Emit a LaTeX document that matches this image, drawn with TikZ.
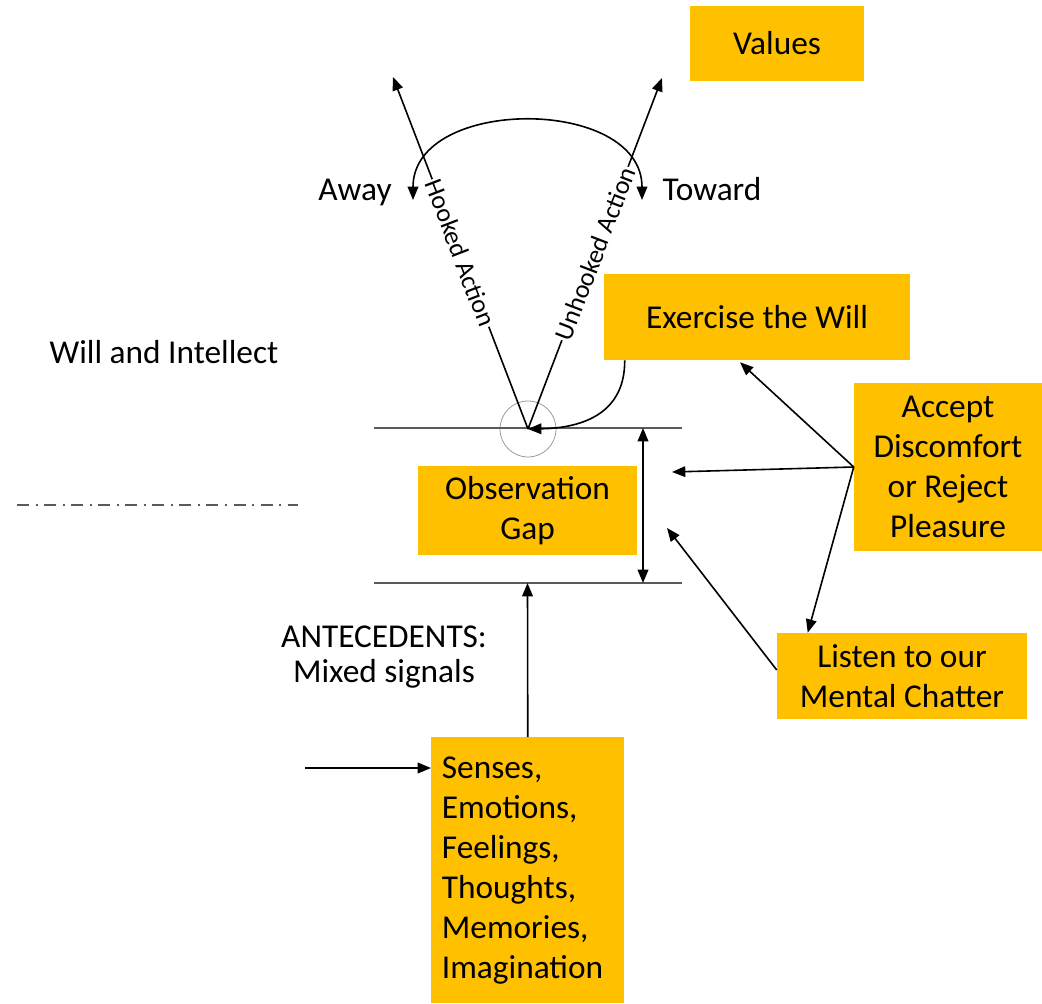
\documentclass[tikz,border=0pt]{standalone}
\usepackage{fontspec}
\setmainfont{Carlito}
\usetikzlibrary{arrows.meta,calc}
\definecolor{gold}{RGB}{255,192,0}
\definecolor{bargray}{RGB}{90,90,90}
\tikzset{
  box/.style={fill=gold, inner sep=0pt, align=center, font=\fontsize{25}{30}\selectfont},
  lbl/.style={anchor=base, inner sep=0pt, align=center, font=\fontsize{25}{30}\selectfont},
  arr/.style={line width=1.2pt, -{Triangle[length=10pt,width=8pt]}},
  twoway/.style={line width=1.2pt, {Triangle[length=10pt,width=8pt]}-{Triangle[length=10pt,width=8pt]}},
  bar/.style={draw=bargray, line width=1.3pt},
  slant/.style={fill=white, inner sep=1pt, font=\fontsize{19.5}{23}\selectfont}
}
\begin{document}
\begin{tikzpicture}[x=0.75pt,y=0.75pt,yscale=-1,xscale=1]
\useasboundingbox (0,0) rectangle (1042,1003);

%Shape: Rectangle [values]
\node[box, minimum width=130.5pt, minimum height=56.25pt] (values) at (777,43.5) {Values};
%Shape: Rectangle [exercise]
\node[box, minimum width=229.5pt, minimum height=64.5pt] (exercise) at (757,317) {Exercise the Will};
%Shape: Rectangle [accept]
\node[box, minimum width=141pt, minimum height=126pt] (accept) at (948,467) {Accept\\Discomfort\\or Reject\\Pleasure};
%Shape: Rectangle [gap]
\node[box, minimum width=164.25pt, minimum height=66.75pt] (gap) at (527.5,510.5) {Observation\\Gap};
%Shape: Rectangle [listen]
\node[box, minimum width=187.5pt, minimum height=64.5pt] (listen) at (902,676) {Listen to our\\Mental Chatter};
%Shape: Rectangle [senses]
\node[box, anchor=north west, inner xsep=8pt, text width=128.75pt, minimum height=199.5pt, align=left] (senses) at (431,737) {Senses,\\Emotions,\\Feelings,\\Thoughts,\\Memories,\\Imagination};

%Shape: Circle [hub]
\node[circle, draw=bargray!60, line width=0.6pt, minimum size=42pt, inner sep=0pt] (hub) at (528,429) {};

%Straight Lines [bars]
\draw[bar] (374,428) -- (682,428);
\draw[bar] (374,583) -- (682,583);
%Straight Lines [dash dot]
\draw[draw=bargray, line width=1.5pt, dash pattern=on 9pt off 4.9pt on 1.5pt off 4.9pt] (17,505) -- (298,505);

\coordinate (hooktip) at (393,77);
\coordinate (unhooktip) at (662,78);
\coordinate (away) at (413,200);
\coordinate (toward) at (642,200);
\coordinate (gapT) at (643,428);
\coordinate (gapB) at (643,583);
\coordinate (midtip) at (672,472);
\coordinate (lowtip) at (667,528);
\coordinate (gapin) at (527.5,583);
\coordinate (feed) at (305,768);

%Curve Lines [swing]
\draw[twoway] (away) .. controls (413,96) and (642,96) .. (toward);
%Straight Lines [actions]
\draw[arr] (hub.center) -- node[slant, rotate=-69] {Hooked Action} (hooktip);
\draw[arr] (hub.center) -- node[slant, rotate=69] {Unhooked Action} (unhooktip);
%Curve Lines [will]
\draw[arr] ($(exercise.south west)+(21,0)$) .. controls (625,412) and (585,428) .. (hub.center);

%Straight Lines [gap height]
\draw[twoway] (gapT) -- (gapB);
%Straight Lines [accept]
\draw[arr] (accept.west) -- ($(exercise.south)+(-17,2)$);
\draw[arr] (accept.west) -- (midtip);
\draw[arr] (accept.west) -- ($(listen.north west)+(31,0)$);
%Straight Lines [listen]
\draw[arr] ($(listen.west)+(0,-6)$) -- (lowtip);
%Straight Lines [senses]
\draw[arr] (senses.north) -- (gapin);
\draw[arr] (feed) -- ($(senses.north west)+(0,31)$);

% Text Node
\node[lbl] (awaytxt) at (355,200) {Away};
% Text Node
\node[lbl] (towardtxt) at (712,200) {Toward};
% Text Node
\node[lbl] (willtxt) at (164,363) {Will and Intellect};
% Text Node
\node[lbl, font=\fontsize{25}{26.25}\selectfont] (antetxt) at (384,682) {ANTECEDENTS:\\Mixed signals};

\end{tikzpicture}
\end{document}
